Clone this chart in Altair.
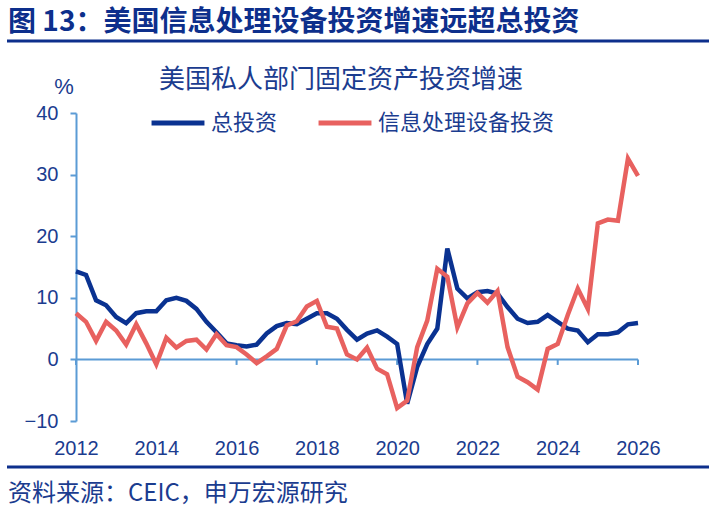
import altair as alt
import pandas as pd

# Quarterly year-on-year growth of US private fixed investment, 2012Q1 - 2026Q1
quarters = [2012 + i / 4 for i in range(57)]
total_investment = [
    14.3, 13.7, 9.6, 8.8, 6.9, 5.9, 7.5, 7.8, 7.8, 9.6, 10.0, 9.5, 8.2, 6.1, 4.4, 2.6,
    2.3, 2.1, 2.4, 4.2, 5.4, 5.9, 5.7, 6.6, 7.5, 7.5, 6.6, 4.8, 3.2, 4.2, 4.7, 3.7,
    2.5, -7.2, -1.2, 2.5, 5.0, 18.0, 11.5, 9.9, 10.9, 11.1, 10.7, 8.5, 6.6, 5.9, 6.1, 7.2,
    6.1, 5.0, 4.7, 2.8, 4.1, 4.1, 4.4, 5.7, 5.9,
]
info_equipment = [
    7.5, 6.1, 3.0, 6.1, 4.7, 2.4, 5.7, 2.6, -0.8, 3.5, 1.9, 3.0, 3.2, 1.6, 4.1, 2.3,
    2.0, 0.8, -0.6, 0.5, 1.7, 5.5, 6.2, 8.6, 9.5, 5.3, 5.0, 0.8, 0.0, 1.9, -1.5, -2.4,
    -7.9, -6.7, 2.0, 6.3, 14.7, 13.4, 5.2, 9.1, 10.8, 9.2, 11.1, 2.0, -2.8, -3.7, -4.9, 1.7,
    2.5, 7.2, 11.5, 8.2, 22.1, 22.7, 22.5, 32.6, 29.8,
]
series_names = ["总投资", "信息处理设备投资"]
series_colors = ["#0A3291", "#E8615F"]

x_ticks = [2012, 2014, 2016, 2018, 2020, 2022, 2024, 2026]
y_ticks = [-10, 0, 10, 20, 30, 40]

header_text = "图 13：美国信息处理设备投资增速远超总投资"
chart_title = "美国私人部门固定资产投资增速"
unit_text = "%"
source_text = "资料来源：CEIC，申万宏源研究"

TEXT = "#1B3C8F"
HEADER = "#0D2F8C"
AXIS = "#5B9BD5"
CJK = "Noto Sans CJK SC"
LATIN = "Liberation Sans"

W, H = 562, 308
PAD = {"left": 76, "top": 113, "right": 711 - 76 - W, "bottom": 513 - 113 - H}

df = pd.concat(
    [
        pd.DataFrame({"t": quarters, "v": total_investment, "s": series_names[0]}),
        pd.DataFrame({"t": quarters, "v": info_equipment, "s": series_names[1]}),
    ],
    ignore_index=True,
)

x_scale = alt.Scale(domain=[x_ticks[0], x_ticks[-1]], nice=False, zero=False)
y_scale = alt.Scale(domain=[y_ticks[0], y_ticks[-1]], nice=False, zero=False)

x_axis = alt.Axis(
    values=x_ticks, format="d", title=None, grid=False, domain=False, ticks=False,
    tickSize=0, labelPadding=17, labelFlush=False, labelFont=LATIN, labelFontSize=20,
    labelColor=TEXT,
)
y_axis = alt.Axis(
    values=y_ticks, title=None, grid=False, domainColor=AXIS, domainWidth=2,
    tickColor=AXIS, tickWidth=2, tickSize=6, labelPadding=12,
    labelFont=LATIN, labelFontSize=20, labelColor=TEXT,
)

lines = alt.Chart(df).mark_line(strokeWidth=4.5).encode(
    x=alt.X("t:Q", scale=x_scale, axis=x_axis),
    y=alt.Y("v:Q", scale=y_scale, axis=y_axis),
    color=alt.Color(
        "s:N",
        scale=alt.Scale(domain=series_names, range=series_colors),
        legend=alt.Legend(
            orient="none", legendX=73, legendY=-19, direction="horizontal", title=None,
            symbolType="stroke", symbolSize=2800, symbolStrokeWidth=5,
            labelFont=CJK, labelFontSize=22, labelColor=TEXT, labelOffset=4,
            labelLimit=400, columnPadding=30, padding=0,
        ),
    ),
    detail="s:N",
)

# zero line with its year ticks
zero_line = alt.Chart(pd.DataFrame({"a": [x_ticks[0]], "b": [x_ticks[-1]], "y": [0]})).mark_rule(
    color=AXIS, strokeWidth=2
).encode(
    x=alt.X("a:Q", scale=x_scale), x2="b:Q", y=alt.Y("y:Q", scale=y_scale)
)
zero_ticks = alt.Chart(pd.DataFrame({"t": x_ticks})).mark_rule(color=AXIS, strokeWidth=2).encode(
    x=alt.X("t:Q", scale=x_scale), y=alt.datum(0, scale=y_scale), y2=alt.datum(-0.9)
)


def label(text, x, y, size, color=TEXT, font=CJK, weight="normal", align="left"):
    return alt.Chart(pd.DataFrame({"txt": [text]})).mark_text(
        font=font, fontSize=size, fontWeight=weight, color=color, align=align, baseline="middle"
    ).encode(x=alt.value(x), y=alt.value(y), text="txt:N")


def hrule(y, x0, x1, width, color):
    return alt.Chart(pd.DataFrame({"k": [0]})).mark_rule(color=color, strokeWidth=width).encode(
        x=alt.value(x0), x2=alt.value(x1), y=alt.value(y)
    )


L, T = PAD["left"], PAD["top"]
decor = [
    label(header_text, 8 - L, 23 - T, 28, color=HEADER, weight="bold"),
    hrule(41 - T, 7 - L, 709 - L, 3, HEADER),
    label(chart_title, 341 - L, 80 - T, 26, align="center"),
    label(unit_text, 64 - L, 87 - T, 22, font=LATIN, align="center"),
    hrule(467 - T, 7 - L, 709 - L, 3, HEADER),
    label(source_text, 8 - L, 494 - T, 24),
]

chart = alt.layer(zero_line, zero_ticks, lines, *decor).properties(
    width=W, height=H, autosize=alt.AutoSizeParams(type="none"), padding=PAD,
    background="white",
).configure_view(stroke=None)

chart.save("out.html", embed_options={"renderer": "svg", "actions": False})
